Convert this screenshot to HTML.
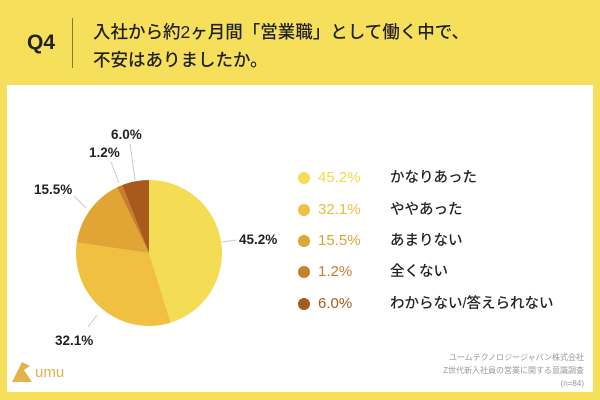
<!DOCTYPE html>
<html><head><meta charset="utf-8"><style>
body{margin:0;width:600px;height:400px;background:#f6df5a;position:relative;overflow:hidden;font-family:"Liberation Sans","Noto Sans CJK JP",sans-serif;}
.panel{position:absolute;left:7px;top:85px;width:586px;height:307px;background:#fff;}
.q{position:absolute;left:27px;top:31px;font-size:21px;font-weight:bold;color:#222;}
.div{position:absolute;left:72px;top:18px;width:1px;height:50px;background:#8a7a30;}
.t{position:absolute;left:93px;top:18px;font-size:17.5px;line-height:28px;color:#222;font-weight:500;}
.lg{position:absolute;font-size:15px;line-height:18px;}
.lab{position:absolute;left:390px;font-size:14.5px;line-height:18px;color:#222;font-weight:500;}
.dot{position:absolute;left:298px;width:12px;height:12px;border-radius:50%;}
.src{position:absolute;right:16px;top:351px;font-size:8px;line-height:13px;color:#999;text-align:right;}
</style></head><body>
<div class="q">Q4</div><div class="div"></div>
<div class="t">入社から約2ヶ月間「営業職」として働く中で、<br>不安はありましたか。</div>
<div class="panel"></div>
<svg style="position:absolute;left:0;top:0" width="600" height="400">
<g stroke="none">
<path d="M149,253 L149,180 A73,73 0 0 1 170.7,322.7Z" fill="#f5dc55"/>
<path d="M149,253 L170.7,322.7 A73,73 0 0 1 76.8,242.5Z" fill="#f0c040"/>
<path d="M149,253 L76.8,242.5 A73,73 0 0 1 117.1,187.3Z" fill="#e0a535"/>
<path d="M149,253 L117.1,187.3 A73,73 0 0 1 122.1,185.1Z" fill="#cc7d2a"/>
<path d="M149,253 L122.1,185.1 A73,73 0 0 1 149,180Z" fill="#a85a1c"/>
</g>
<g stroke="#ccc" stroke-width="1" fill="none">
<line x1="222" y1="242" x2="237" y2="240"/>
<line x1="97" y1="315" x2="88" y2="327"/>
<line x1="86" y1="208" x2="74" y2="196"/>
<line x1="119" y1="183" x2="111" y2="162"/>
<line x1="135" y1="180" x2="130" y2="144"/>
</g>
<g font-size="13.5" font-weight="bold" fill="#222" font-family="Liberation Sans,sans-serif">
<text x="239" y="244">45.2%</text>
<text x="55" y="345">32.1%</text>
<text x="34" y="194">15.5%</text>
<text x="89" y="157">1.2%</text>
<text x="111" y="139">6.0%</text>
</g>
</svg>
<div class="dot" style="top:172px;background:#f5dc55"></div>
<div class="dot" style="top:204px;background:#f0c040"></div>
<div class="dot" style="top:235px;background:#e0a535"></div>
<div class="dot" style="top:266px;background:#cc7d2a"></div>
<div class="dot" style="top:298px;background:#a85a1c"></div>
<div class="lg" style="left:318px;top:169px;color:#f0d94a">45.2%</div>
<div class="lg" style="left:318px;top:201px;color:#eebd3e">32.1%</div>
<div class="lg" style="left:318px;top:232px;color:#dda338">15.5%</div>
<div class="lg" style="left:318px;top:263px;color:#cc7d2a">1.2%</div>
<div class="lg" style="left:318px;top:295px;color:#a85a1c">6.0%</div>
<div class="lab" style="top:169px">かなりあった</div>
<div class="lab" style="top:201px">ややあった</div>
<div class="lab" style="top:232px">あまりない</div>
<div class="lab" style="top:263px">全くない</div>
<div class="lab" style="top:295px">わからない/答えられない</div>
<svg style="position:absolute;left:10px;top:356px" width="70" height="30">
<path d="M2,26 L12,6 L20,10 L14,14 L22,26 Z" fill="#e3b24a"/>
<text x="25" y="21" font-size="15" fill="#e3b24a" font-family="Liberation Sans,sans-serif">umu</text>
</svg>
<div class="src">ユームテクノロジージャパン株式会社<br>Z世代新入社員の営業に関する意識調査<br>(n=84)</div>
</body></html>
